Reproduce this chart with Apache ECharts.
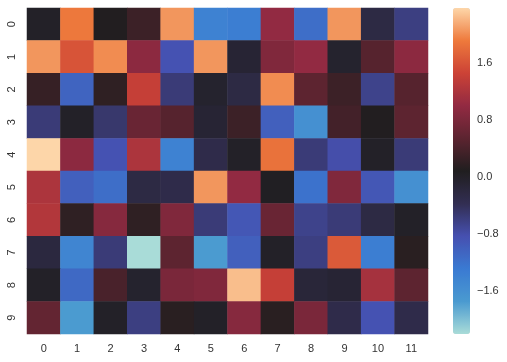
<!DOCTYPE html>
<html>
<head>
<meta charset="utf-8">
<script src="https://cdn.jsdelivr.net/npm/echarts@6/dist/echarts.min.js"></script>
<style>
html,body{margin:0;padding:0;background:#fff;}
#chart{width:507px;height:362px;}
</style>
</head>
<body>
<div id="chart"></div>
<script>
const xLabels = ['0','1','2','3','4','5','6','7','8','9','10','11'];
const yLabels = ['0','1','2','3','4','5','6','7','8','9'];
const row0 = [0.0, 1.9, 0.1, 0.3, 2.05, -1.4, -1.35, 1.0, -1.15, 2.05, -0.25, -0.6];
const row1 = [2.05, 1.6, 2.0, 0.95, -0.85, 2.05, -0.1, 0.85, 1.0, -0.05, 0.5, 0.95];
const row2 = [0.25, -1.05, 0.2, 1.4, -0.55, -0.05, -0.25, 2.0, 0.55, 0.3, -0.65, 0.5];
const row3 = [-0.55, 0.0, -0.5, 0.65, 0.5, -0.1, 0.3, -1.0, -1.6, 0.35, 0.1, 0.55];
const row4 = [2.37, 0.95, -0.85, 1.2, -1.4, -0.3, 0.0, 1.85, -0.55, -0.8, 0.0, -0.55];
const row5 = [1.2, -1.0, -1.15, -0.25, -0.3, 2.05, 1.0, 0.05, -1.2, 0.85, -0.9, -1.6];
const row6 = [1.25, 0.2, 0.9, 0.2, 0.85, -0.55, -0.9, 0.65, -0.65, -0.55, -0.25, 0.0];
const row7 = [-0.2, -1.45, -0.55, -2.2, 0.55, -1.75, -1.0, 0.0, -0.6, 1.65, -1.35, 0.15];
const row8 = [0.0, -1.1, 0.4, -0.05, 0.8, 0.85, 2.25, 1.4, -0.15, -0.1, 1.15, 0.55];
const row9 = [0.6, -1.75, 0.0, -0.6, 0.15, 0.0, 0.9, 0.15, 0.8, -0.3, -0.85, -0.3];
const rows = [row0, row1, row2, row3, row4, row5, row6, row7, row8, row9];
const cbarTicks = [-1.6, -0.8, 0.0, 0.8, 1.6];
const vMin = -2.2, vMax = 2.37;
const icefire = ['#a9dcd8','#4a9ad0','#3a7ad2','#4650b0','#322e52','#201e1f','#5c2430','#922a42','#cc4236','#ee7a3c','#fdd6a9'];

const data = [];
rows.forEach((r, yi) => r.forEach((v, xi) => data.push([xi, yi, v])));

const fmt = v => (v < 0 ? '\u2212' : '') + Math.abs(v).toFixed(1);
const FONT = '"Liberation Sans", Arial, sans-serif';
const chart = echarts.init(document.getElementById('chart'), null, {renderer: 'canvas'});
chart.setOption({
  animation: false,
  grid: [
    {left: 27, top: 8, width: 401, height: 326},
    {left: 453, top: 8, width: 17, height: 326}
  ],
  xAxis: [
    {type: 'category', gridIndex: 0, data: xLabels, position: 'bottom',
     axisLine: {show: false}, axisTick: {show: false}, splitLine: {show: false},
     axisLabel: {color: '#333', fontSize: 11, margin: 9, fontFamily: FONT}},
    {type: 'value', gridIndex: 1, show: false, min: 0, max: 1}
  ],
  yAxis: [
    {type: 'category', gridIndex: 0, data: yLabels, inverse: true,
     axisLine: {show: false}, axisTick: {show: false}, splitLine: {show: false},
     axisLabel: {color: '#333', fontSize: 11, margin: 10, rotate: 90, fontFamily: FONT}},
    {type: 'value', gridIndex: 1, position: 'right', min: vMin, max: vMax,
     axisLine: {show: false}, splitLine: {show: false},
     axisTick: {show: true, length: 4, customValues: cbarTicks, lineStyle: {color: '#333'}},
     axisLabel: {color: '#333', fontSize: 11, margin: 7, customValues: cbarTicks,
                 formatter: fmt, fontFamily: FONT}}
  ],
  visualMap: {
    type: 'continuous', min: vMin, max: vMax, dimension: 2, seriesIndex: 0,
    calculable: false, left: 453, top: 8, itemWidth: 17, itemHeight: 326,
    padding: 0, text: null, showLabel: false, hoverLink: false,
    inRange: {color: icefire}
  },
  series: [
    {type: 'heatmap', xAxisIndex: 0, yAxisIndex: 0, data: data,
     itemStyle: {borderWidth: 0}, emphasis: {disabled: true}},
    {type: 'line', xAxisIndex: 1, yAxisIndex: 1, data: [], silent: true}
  ]
});
</script>
</body>
</html>
